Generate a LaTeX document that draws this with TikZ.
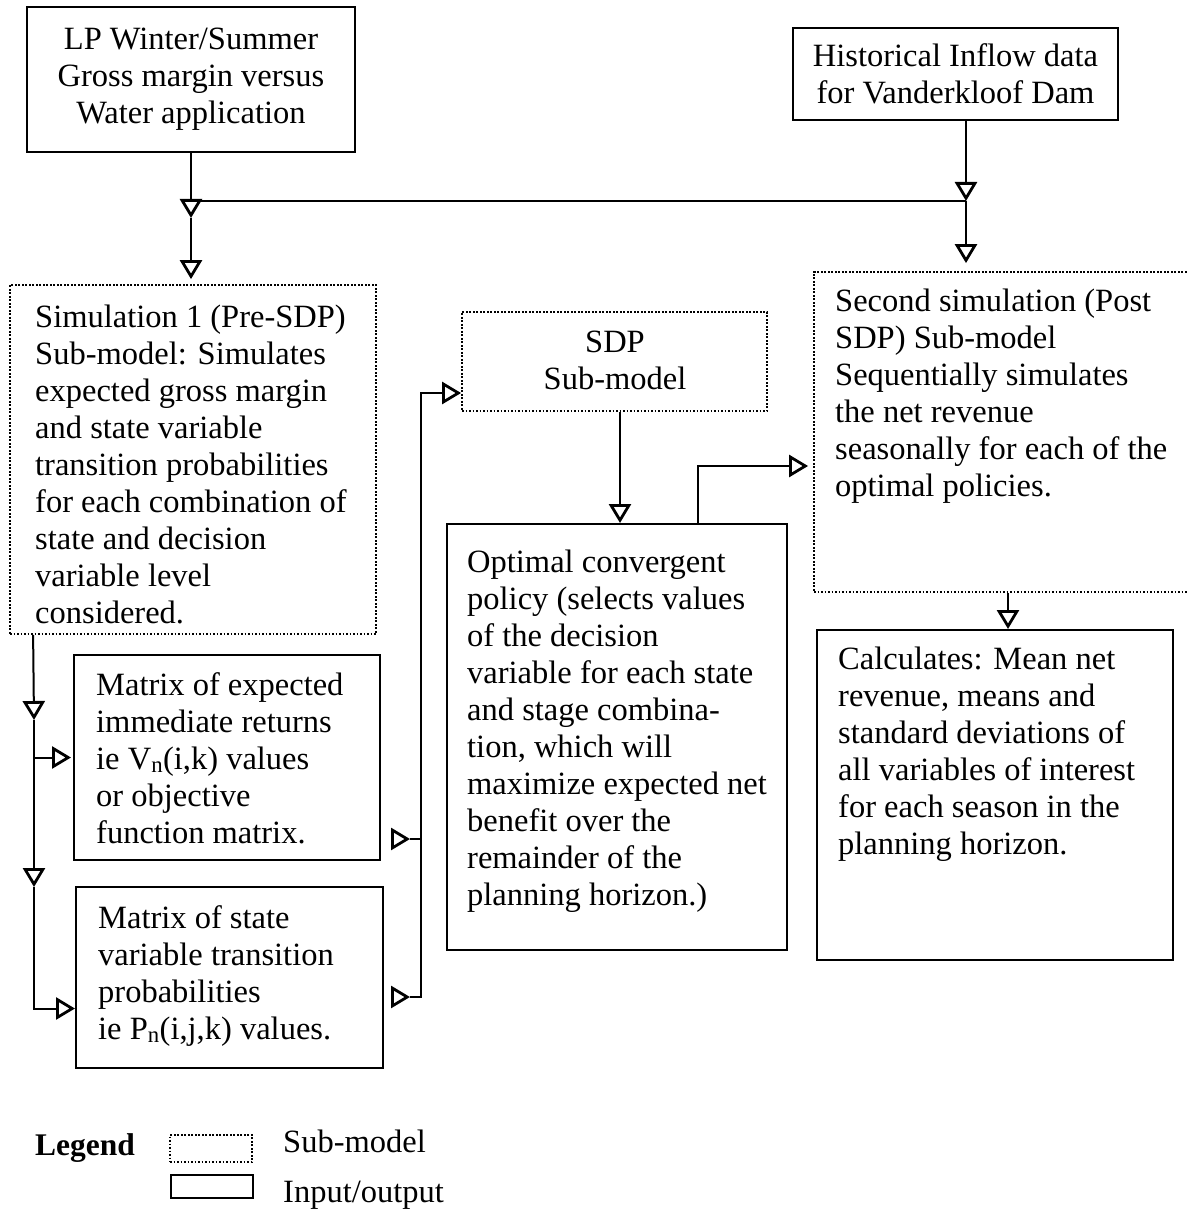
\documentclass[tikz,border=0pt]{standalone}
\usepackage{fontspec}
\setmainfont{Liberation Serif}
\usetikzlibrary{arrows.meta}
\begin{document}
\begin{tikzpicture}[x=1pt,y=-1pt,
  iobox/.style={draw, line width=2pt, inner sep=0pt},
  subbox/.style={draw, line width=1.8pt, dash pattern=on 1.6pt off 1.9pt, inner sep=0pt},
  txt/.style={inner sep=0pt, font=\fontsize{32.5}{37}\selectfont},
  flow/.style={line width=2pt, -{Triangle[open, length=19pt, width=22pt, line width=2.8pt]}},
  link/.style={line width=2pt}]
\useasboundingbox (0,0) rectangle (1187,1214);
\clip (0,0) rectangle (1187,1214);

% boxes
\node[iobox, minimum width=328pt, minimum height=145pt] (lp) at (191,79.5) {};
\node[iobox, minimum width=325pt, minimum height=92pt] (hist) at (955.5,74) {};
\node[subbox, minimum width=366pt, minimum height=349pt] (sim1) at (193,459.5) {};
\node[subbox, minimum width=305pt, minimum height=99pt] (sdp) at (614.5,361.5) {};
\node[subbox, minimum width=378pt, minimum height=320pt] (sim2) at (1003,432) {};
\node[iobox, minimum width=306pt, minimum height=205pt] (m1) at (227,757.5) {};
\node[iobox, minimum width=307pt, minimum height=181pt] (m2) at (229.5,977.5) {};
\node[iobox, minimum width=340pt, minimum height=426pt] (opt) at (617,737) {};
\node[iobox, minimum width=356pt, minimum height=330pt] (calc) at (995,795) {};

% box texts
\node[txt, anchor=north, align=center] (lpt) at (191,23) {\strut LP Winter/Summer\\Gross margin versus\\Water application};
\node[txt, anchor=north, align=center] (histt) at (955.5,40) {\strut Historical Inflow data\\for Vanderkloof Dam};
\node[txt, anchor=north west, align=left] (sim1t) at (35,301) {\strut Simulation 1 (Pre-SDP)\\Sub-model: Simulates\\expected gross margin\\and state variable\\transition probabilities\\for each combination of\\state and decision\\variable level\\considered.};
\node[txt, anchor=north, align=center] (sdpt) at (615,326) {\strut SDP\\Sub-model};
\node[txt, anchor=north west, align=left] (sim2t) at (835,285) {\strut Second simulation (Post\\SDP) Sub-model\\Sequentially simulates\\the net revenue\\seasonally for each of the\\optimal policies.};
\node[txt, anchor=north west, align=left] (m1t) at (96,669) {\strut Matrix of expected\\immediate returns\\ie V\textsubscript{n}(i,k) values\\or objective\\function matrix.};
\node[txt, anchor=north west, align=left] (m2t) at (98,902) {\strut Matrix of state\\variable transition\\probabilities\\ie P\textsubscript{n}(i,j,k) values.};
\node[txt, anchor=north west, align=left] (optt) at (467,546) {\strut Optimal convergent\\policy (selects values\\of the decision\\variable for each state\\and stage combina-\\tion, which will\\maximize expected net\\benefit over the\\remainder of the\\planning horizon.)};
\node[txt, anchor=north west, align=left] (calct) at (838,643) {\strut Calculates: Mean net\\revenue, means and\\standard deviations of\\all variables of interest\\for each season in the\\planning horizon.};

% junction points
\coordinate (jl) at (191,201);
\coordinate (jr) at (966,201);
\coordinate (s1) at (34,720);
\coordinate (s2) at (34,887);
\coordinate (v1) at (421,839);
\coordinate (v2) at (421,997);

% inputs merged into both simulations
\draw[flow] (lp.south -| jl) -- ([yshift=-17pt]jl);
\draw[link] (jl) -- (jr);
\draw[flow] ([yshift=-17pt]jl) -- ([yshift=5pt]sim1.north -| jl);
\draw[flow] (hist.south -| jr) -- (jr);
\draw[flow] (jr) -- ([yshift=8pt]sim2.north -| jr);

% first simulation feeds the two matrices
\draw[flow] ([xshift=24pt]sim1.south west) -- (s1);
\draw[flow] (s1) |- ([xshift=-2pt]m1.west);
\draw[flow] (s1) -- (s2);
\draw[flow] (s2) |- ([yshift=-31pt]m2.west);

% matrices feed the SDP sub-model
\draw[flow] ([xshift=12pt,yshift=-81.5pt]m1.east) -- ([xshift=-11pt]v1);
\draw[link] ([xshift=-11pt]v1) -- (v1);
\draw[flow] ([xshift=9pt,yshift=-19.5pt]m2.east) -- ([xshift=-11pt]v2);
\draw[flow] ([xshift=-11pt]v2) -- (v2) |- ([yshift=-31.5pt]sdp.west);

% SDP to optimal policy to second simulation
\draw[flow] ([xshift=5.5pt]sdp.south) -- ([xshift=3pt]opt.north);
\draw[flow] ([xshift=81pt]opt.north) |- ([xshift=-5pt,yshift=-34pt]sim2.west);
\draw[flow] ([xshift=5pt]sim2.south) -- ([xshift=13pt]calc.north);

% legend
\node[txt, anchor=base west, font=\fontsize{31.5}{37}\selectfont\bfseries] (leg) at (35,1155) {Legend};
\node[subbox, minimum width=82pt, minimum height=27pt] (legsub) at (211,1148.5) {};
\node[iobox, minimum width=82pt, minimum height=23pt] (legio) at (212,1186.5) {};
\node[txt, anchor=base west] (legsubt) at (283,1152) {Sub-model};
\node[txt, anchor=base west] (legiot) at (283,1202) {Input/output};
\end{tikzpicture}
\end{document}
